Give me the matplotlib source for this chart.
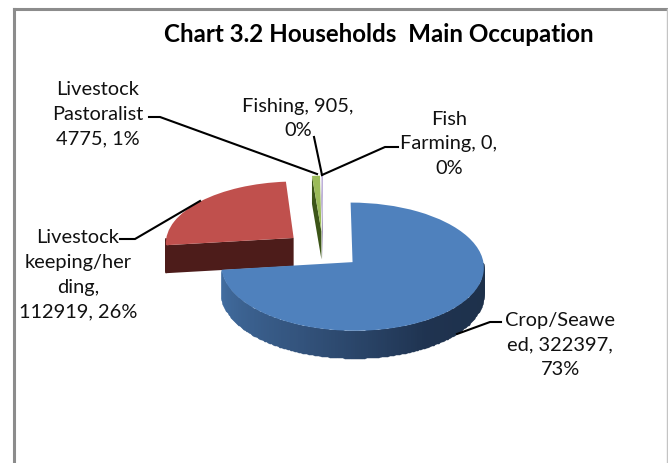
import matplotlib
matplotlib.use("Agg")
import matplotlib.pyplot as plt
import numpy as np
from matplotlib.colors import LinearSegmentedColormap
from matplotlib.transforms import Transform

categories = ["Crop/Seaweed", "Livestock keeping/herding", "Livestock Pastoralist", "Fishing", "Fish Farming"]
households = [322397, 112919, 4775, 905, 0]
top_colors = ["#4f81bd", "#c0504d", "#9bbb59", "#bcaed8", "#4bacc6"]
side_colors = [["#436fa3", "#34557f", "#1f3350", "#1d3049"], ["#4d1c1a", "#4d1c1a"], ["#3c5518", "#3c5518"],
               ["#8d7fa8", "#8d7fa8"], ["#2f7f94", "#2f7f94"]]
face_colors = ["#2a4568", "#4d1c1a", "#3c5518", "#8d7fa8", "#2f7f94"]

title = "Chart 3.2 Households  Main Occupation"
labels = ["Crop/Seawe\ned, 322397,\n73%", "Livestock\nkeeping/her\nding,\n112919, 26%",
          "Livestock\nPastoralist\n4775, 1%", "Fishing, 905,\n0%", "Fish\nFarming, 0,\n0%"]
label_pos = [(560, 345), (78, 275), (98, 114), (298, 118.5), (449, 144)]
leaders = [
    [(457, 335), (490, 323), (501, 323)],
    [(200, 202), (135, 240), (120, 240)],
    [(317, 175), (160, 118), (149, 118)],
    [(322, 176), (314, 138)],
    [(322, 176), (385, 148), (398, 148)],
]

DEPTH = 28


class PieView(Transform):
    # squash the unit pie into pixels, back of the pie a bit smaller
    input_dims = 2
    output_dims = 2

    def transform_non_affine(self, values):
        v = np.asarray(values, dtype=float)
        s = 1 / (1 + 0.07 * v[:, 1])
        return np.column_stack([323.2 + 129 * v[:, 0] * s, 250.6 - 62 * v[:, 1] * s])


plt.rcParams["font.family"] = ["Lato", "DejaVu Sans"]
fig = plt.figure(figsize=(6.68, 4.64), dpi=100)
ax = fig.add_axes([0, 0, 1, 1])

wedges, _ = ax.pie(households, colors=top_colors, explode=[0.3] * 5, startangle=90,
                   counterclock=False, wedgeprops={"linewidth": 0})
ax.set_aspect("auto")
ax.set_xlim(0, 668)
ax.set_ylim(464, 0)
ax.axis("off")

view = PieView()
for i, w in enumerate(wedges):
    z = 6 if i == 0 else 3
    w.set_transform(view + ax.transData)
    w.set_zorder(z + 1)
    cx, cy = w.center
    t = np.radians(np.linspace(w.theta1, w.theta2, 300))
    rim = view.transform(np.column_stack([cx + np.cos(t), cy + np.sin(t)]))

    # outer wall, only the part turned to the viewer
    front = np.sin(t) <= 0
    if front.sum() > 1 and w.theta2 > w.theta1:
        px = rim[front]
        xx = np.vstack([px[:, 0], px[:, 0]])
        yy = np.vstack([px[:, 1], px[:, 1] + DEPTH])
        shade = np.linspace(0, 1, len(px) - 1)[None, :]
        cmap = LinearSegmentedColormap.from_list("wall", side_colors[i])
        ax.pcolormesh(xx, yy, shade, cmap=cmap, vmin=0, vmax=1, shading="flat",
                      antialiased=True, edgecolors="face", linewidth=0.3, zorder=z)

    # cut face on the leading edge of the exploded slices
    if i > 0 and w.theta2 > w.theta1:
        apex = view.transform(np.array([[cx, cy]]))[0]
        edge = rim[-1]
        ax.fill([apex[0], edge[0], edge[0], apex[0]],
                [apex[1], edge[1], edge[1] + DEPTH, apex[1] + DEPTH],
                color=face_colors[i], linewidth=0, zorder=z)

for pts in leaders:
    xs, ys = zip(*pts)
    ax.plot(xs, ys, color="black", lw=1.5, solid_joinstyle="miter", zorder=8)

for txt, (x, y) in zip(labels, label_pos):
    ax.text(x, y, txt, ha="center", va="center", fontsize=14.4, linespacing=1.55,
            color="#111111", zorder=9)

ax.text(379, 34.5, title, ha="center", va="center", fontsize=17.4, fontweight="bold", color="black")

# chart area border, bottom runs off the picture
ax.plot([14, 14], [464, 10], color="#8c8c8c", lw=2.2, zorder=1)
ax.plot([14, 668], [10, 10], color="#8c8c8c", lw=2.2, zorder=1)
ax.plot([667, 667], [10, 464], color="#c4c4c4", lw=1, zorder=1)

fig.savefig("out.png", dpi=100)
